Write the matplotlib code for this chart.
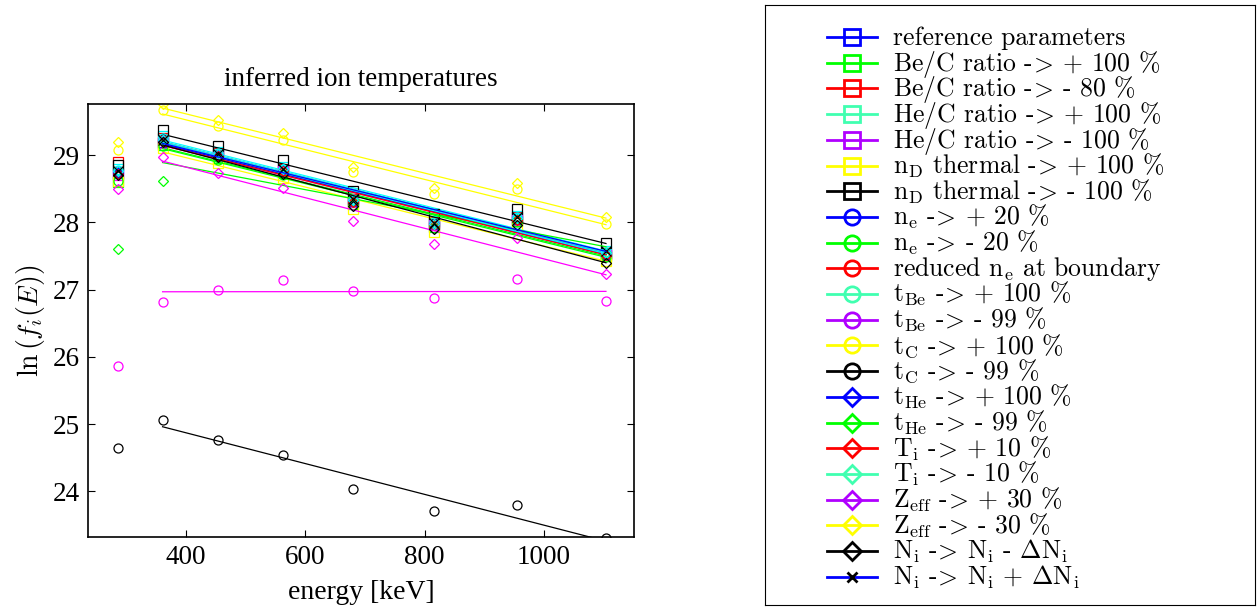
import numpy as np
import matplotlib
matplotlib.use("Agg")
import matplotlib.pyplot as plt

plt.rcParams['font.family'] = ['Liberation Serif', 'DejaVu Serif']
plt.rcParams['mathtext.fontset'] = 'cm'

# energies [keV]
energy = [286, 361, 454, 562, 680, 816, 955, 1104]

arrow = r'-$\!>\!$'
labels = [
    'reference parameters',
    'Be/C ratio ' + arrow + ' + 100 %',
    'Be/C ratio ' + arrow + ' - 80 %',
    'He/C ratio ' + arrow + ' + 100 %',
    'He/C ratio ' + arrow + ' - 100 %',
    r'n$_\mathrm{D}$ thermal ' + arrow + ' + 100 %',
    r'n$_\mathrm{D}$ thermal ' + arrow + ' - 100 %',
    r'n$_\mathrm{e}$ ' + arrow + ' + 20 %',
    r'n$_\mathrm{e}$ ' + arrow + ' - 20 %',
    r'reduced n$_\mathrm{e}$ at boundary',
    r't$_\mathrm{Be}$ ' + arrow + ' + 100 %',
    r't$_\mathrm{Be}$ ' + arrow + ' - 99 %',
    r't$_\mathrm{C}$ ' + arrow + ' + 100 %',
    r't$_\mathrm{C}$ ' + arrow + ' - 99 %',
    r't$_\mathrm{He}$ ' + arrow + ' + 100 %',
    r't$_\mathrm{He}$ ' + arrow + ' - 99 %',
    r'T$_\mathrm{i}$ ' + arrow + ' + 10 %',
    r'T$_\mathrm{i}$ ' + arrow + ' - 10 %',
    r'Z$_\mathrm{eff}$ ' + arrow + ' + 30 %',
    r'Z$_\mathrm{eff}$ ' + arrow + ' - 30 %',
    r'N$_\mathrm{i}$ ' + arrow + r' N$_\mathrm{i}$ - $\Delta$N$_\mathrm{i}$',
    r'N$_\mathrm{i}$ ' + arrow + r' N$_\mathrm{i}$ + $\Delta$N$_\mathrm{i}$',
]

# ln(f_i(E)) for every case
ref_params   = [28.73, 29.20, 29.00, 28.78, 28.31, 27.97, 28.05, 27.53]
bec_up       = [28.60, 29.15, 28.95, 28.73, 28.27, 27.93, 28.02, 27.50]
bec_down     = [28.90, 29.25, 29.03, 28.80, 28.34, 28.00, 28.08, 27.55]
hec_up       = [28.80, 29.28, 29.05, 28.82, 28.37, 28.02, 28.10, 27.58]
hec_down     = [28.70, 29.18, 28.98, 28.76, 28.30, 27.96, 28.04, 27.52]
nd_up        = [28.62, 29.10, 28.88, 28.66, 28.20, 27.86, 27.94, 27.43]
nd_down      = [28.86, 29.37, 29.13, 28.93, 28.46, 28.12, 28.20, 27.70]
ne_up        = [28.75, 29.22, 29.00, 28.78, 28.32, 27.97, 28.06, 27.53]
ne_down      = [28.62, 29.14, 28.93, 28.71, 28.26, 27.92, 28.00, 27.48]
ne_boundary  = [28.76, 29.22, 29.01, 28.78, 28.32, 27.97, 28.05, 27.53]
tbe_up       = [28.78, 29.25, 29.03, 28.80, 28.35, 28.00, 28.08, 27.56]
tbe_down     = [25.86, 26.81, 27.00, 27.14, 26.98, 26.87, 27.16, 26.83]
tc_up        = [29.07, 29.67, 29.43, 29.22, 28.75, 28.42, 28.49, 27.97]
tc_down      = [24.65, 25.06, 24.77, 24.54, 24.04, 23.71, 23.79, 23.30]
the_up       = [28.74, 29.21, 29.00, 28.78, 28.31, 27.97, 28.05, 27.53]
the_down     = [27.60, 28.62, 28.95, 28.74, 28.30, 27.96, 28.05, 27.55]
ti_up        = [28.72, 29.19, 28.98, 28.76, 28.30, 27.96, 28.04, 27.52]
ti_down      = [28.76, 29.23, 29.01, 28.79, 28.33, 27.98, 28.06, 27.54]
zeff_up      = [28.50, 28.97, 28.73, 28.51, 28.02, 27.68, 27.76, 27.23]
zeff_down    = [29.20, 29.76, 29.52, 29.33, 28.82, 28.51, 28.58, 28.08]
ni_down      = [28.70, 29.20, 28.97, 28.72, 28.24, 27.90, 27.96, 27.39]
ni_up        = [28.76, 29.22, 29.01, 28.80, 28.34, 27.99, 28.08, 27.58]

values = [ref_params, bec_up, bec_down, hec_up, hec_down, nd_up, nd_down,
          ne_up, ne_down, ne_boundary, tbe_up, tbe_down, tc_up, tc_down,
          the_up, the_down, ti_up, ti_down, zeff_up, zeff_down, ni_down, ni_up]

cycle_plot = ['#0000ff', '#00ff00', '#ff0000', '#00ffff', '#ff00ff', '#ffff00', '#000000']
cycle_leg = ['#0000ff', '#00ff00', '#ff0000', '#40ffb0', '#b000ff', '#ffff00', '#000000']
markers = ['s'] * 7 + ['o'] * 7 + ['D'] * 7 + ['x']

fig = plt.figure(figsize=(12.59, 6.10), dpi=100)
ax = fig.add_axes([88/1259, 73/610, 546/1259, 433/610])

# legend box, drawn in pixel units
lax = fig.add_axes([765/1259, 5/610, 490/1259, 600/610])
lax.set_xlim(765, 1255)
lax.set_ylim(605, 5)
lax.set_xticks([])
lax.set_yticks([])

E = np.array(energy)
for i, (lab, vals) in enumerate(zip(labels, values)):
    c = cycle_plot[i % 7]
    cl = cycle_leg[i % 7]
    m = markers[i]
    mc = 'k' if m == 'x' else c
    ax.plot(E, vals, ls='none', marker=m, mfc='none', mec=mc,
            ms=6.5 if m != 'D' else 5.5, mew=0.9)
    p = np.polyfit(E[1:], np.array(vals)[1:], 1)
    xf = E[[1, -1]]
    ax.plot(xf, np.polyval(p, xf), color=c, lw=0.9)

    # legend row
    y = 37 + i * 25.7
    lax.plot([827, 877], [y, y], color=cl, lw=2)
    if m == 'x':
        lax.plot(852, y, marker='x', color='k', ms=7, mew=2)
    else:
        lax.plot(852, y, marker=m, mfc='none', mec=cl,
                 ms=11 if m != 'D' else 9, mew=2)
    lax.text(893, y + 8, lab, fontsize=18.5, va='baseline', ha='left',
             family=['cmr10', 'DejaVu Serif'])

ax.set_xlim(236, 1151)
ax.set_ylim(23.32, 29.76)
ax.set_xticks([400, 600, 800, 1000])
ax.set_yticks([24, 25, 26, 27, 28, 29])
ax.tick_params(direction='in', top=True, right=True, labelsize=19.5, length=5, pad=6)
for s in ax.spines.values():
    s.set_linewidth(1.2)
ax.set_title('inferred ion temperatures', fontsize=19.5, pad=13)
ax.set_xlabel('energy [keV]', fontsize=20, labelpad=7)
ax.set_ylabel(r'$\ln\left(f_i(E)\right)$', fontsize=20)

fig.savefig('out.png', dpi=100)
